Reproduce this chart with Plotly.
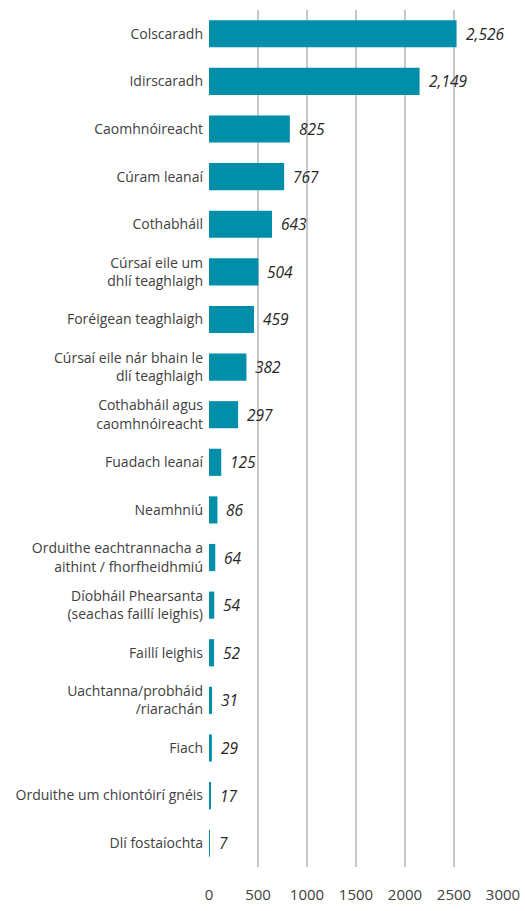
import plotly.graph_objects as go

categories = [
    "Colscaradh",
    "Idirscaradh",
    "Caomhnóireacht",
    "Cúram leanaí",
    "Cothabháil",
    "Cúrsaí eile um<br>dhlí teaghlaigh",
    "Foréigean teaghlaigh",
    "Cúrsaí eile nár bhain le<br>dlí teaghlaigh",
    "Cothabháil agus<br>caomhnóireacht",
    "Fuadach leanaí",
    "Neamhniú",
    "Orduithe eachtrannacha a<br>aithint / fhorfheidhmiú",
    "Díobháil Phearsanta<br>(seachas faillí leighis)",
    "Faillí leighis",
    "Uachtanna/probháid<br>/riarachán",
    "Fiach",
    "Orduithe um chiontóirí gnéis",
    "Dlí fostaíochta",
]
values = [2526, 2149, 825, 767, 643, 504, 459, 382, 297, 125, 86, 64, 54, 52, 31, 29, 17, 7]
x_ticks = [0, 500, 1000, 1500, 2000, 2500, 3000]

BAR = "#008ea9"
FONT = "Open Sans, Noto Sans, sans-serif"

fig = go.Figure(go.Bar(
    x=values,
    y=categories,
    orientation="h",
    marker=dict(color=BAR, line=dict(width=0)),
    width=0.57,
    hoverinfo="skip",
))

for c, v in zip(categories, values):
    fig.add_annotation(
        x=v, y=c, xref="x", yref="y",
        text=f"<i>{v:,}</i>",
        showarrow=False, xanchor="left", xshift=7,
        font=dict(family=FONT, size=15.5, color="#262626"),
    )

fig.update_layout(
    width=525, height=911,
    margin=dict(l=209, r=22, t=10, b=44),
    paper_bgcolor="white", plot_bgcolor="white",
    showlegend=False,
    font=dict(family=FONT, size=14, color="#404040"),
)
fig.update_xaxes(
    range=[0, 3000],
    tickvals=x_ticks,
    ticktext=[str(t) for t in x_ticks],
    showgrid=True, gridcolor="#c8c8c8", gridwidth=1.5,
    zeroline=False, showline=False,
    ticks="", ticklabelstandoff=17,
    tickfont=dict(family=FONT, size=15, color="#404040"),
    fixedrange=True, automargin=False,
)
fig.update_yaxes(
    categoryorder="array", categoryarray=categories,
    autorange="reversed",
    showgrid=False, zeroline=False, showline=False,
    ticks="", ticklabelstandoff=5,
    tickfont=dict(family=FONT, size=14, color="#404040"),
    fixedrange=True, automargin=False,
)

fig.write_html(
    "out.html",
    config={"displayModeBar": False},
    post_script="document.body.style.margin='0';",
)
